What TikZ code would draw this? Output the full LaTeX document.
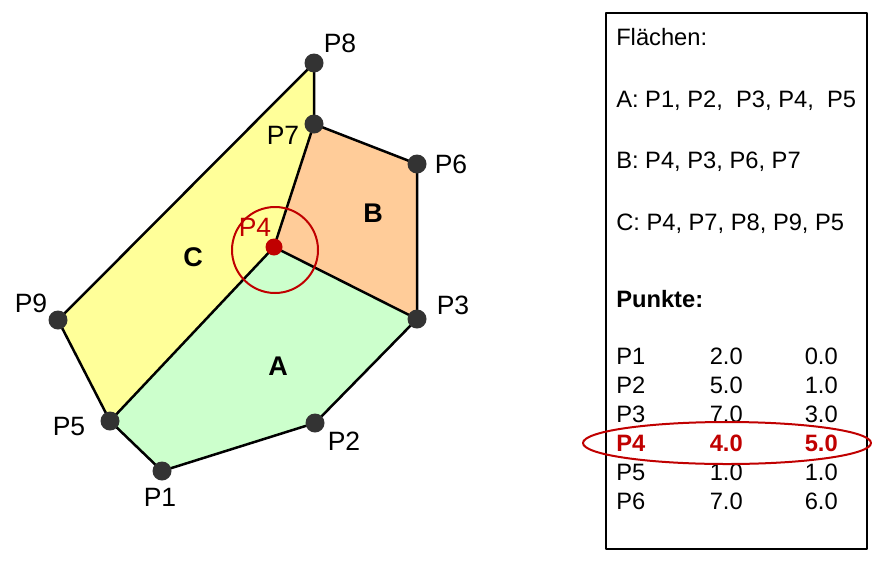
\documentclass[tikz,border=0pt]{standalone}
\usepackage{fontspec}
\setmainfont{Liberation Sans}
\definecolor{flA}{HTML}{CCFFCC}
\definecolor{flB}{HTML}{FFCC99}
\definecolor{flC}{HTML}{FFFF99}
\definecolor{dunkel}{HTML}{333333}
\definecolor{rot}{HTML}{C00000}
\begin{document}
\begin{tikzpicture}[x=1pt, y=-1pt, line width=2.5pt, line join=round,
	punkt/.style={circle, fill=dunkel, inner sep=0pt, minimum size=19pt},
	plabel/.style={font=\fontsize{26.5}{30}\selectfont, inner sep=0pt},
	flabel/.style={font=\fontsize{27}{30}\selectfont\bfseries, inner sep=0pt},
	btext/.style={font=\fontsize{23.7}{26}\selectfont, inner sep=0pt, anchor=base west},
	bzahl/.style={font=\fontsize{23.7}{26}\selectfont, inner sep=0pt, anchor=base east},
	bfett/.style={font=\fontsize{23.7}{26}\selectfont\bfseries, text=rot}]
	\useasboundingbox (0,0) rectangle (877,560);
	% Punkte
	\coordinate (P1) at (162, 471);
	\coordinate (P2) at (315, 423);
	\coordinate (P3) at (417, 319);
	\coordinate (P4) at (274, 247);
	\coordinate (P5) at (110, 421);
	\coordinate (P6) at (417, 164);
	\coordinate (P7) at (314, 124);
	\coordinate (P8) at (314,  63);
	\coordinate (P9) at ( 58, 320);
	% Flaechen
	\fill[flA] (P1) -- (P2) -- (P3) -- (P4) -- (P5) -- cycle;
	\fill[flB] (P4) -- (P3) -- (P6) -- (P7) -- cycle;
	\fill[flC] (P4) -- (P7) -- (P8) -- (P9) -- (P5) -- cycle;
	\draw (P1) -- (P2) -- (P3) -- (P6) -- (P7) -- (P8) -- (P9) -- (P5) -- cycle;
	\draw (P3) -- (P4) -- (P5);
	\draw (P4) -- (P7);
	\draw[rot, line width=2pt] (275, 250) circle [radius=43];
	\foreach \p in {P1,P2,P3,P5,P6,P7,P8,P9}
		\node (d\p) at (\p) [punkt] {};
	\node (dP4) at (P4) [punkt, fill=rot, minimum size=17pt] {};
	% Beschriftung
	\node (L1) at (160, 497) [plabel] {P1};
	\node (L2) at (344, 441) [plabel] {P2};
	\node (L3) at (453, 305) [plabel] {P3};
	\node (L4) at (255, 227) [plabel, text=rot] {P4};
	\node (L5) at ( 69, 427) [plabel] {P5};
	\node (L6) at (451, 164) [plabel] {P6};
	\node (L7) at (283, 135) [plabel] {P7};
	\node (L8) at (340,  43) [plabel] {P8};
	\node (L9) at ( 31, 303) [plabel] {P9};
	\node (FA) at (278, 366) [flabel] {A};
	\node (FB) at (373, 213) [flabel] {B};
	\node (FC) at (193, 257) [flabel] {C};
	% Tabelle
	\draw (606, 13) rectangle (867, 549);
	\node (T0) at (615,  45) [btext] {Flächen:};
	\node (TA) at (615, 107) [btext] {A: P1, P2,\ \ P3, P4,\ \ P5};
	\node (TB) at (615, 168) [btext] {B: P4, P3, P6, P7};
	\node (TC) at (615, 230) [btext] {C: P4, P7, P8, P9, P5};
	\node (TP) at (615, 307) [btext, font=\fontsize{23.7}{26}\selectfont\bfseries] {Punkte:};
	\foreach \n/\x/\y/\yy in {1/2.0/0.0/364, 2/5.0/1.0/393, 3/7.0/3.0/422, 5/1.0/1.0/480, 6/7.0/6.0/509} {
		\node (R\n) at (615, \yy) [btext] {P\n};
		\node (X\n) at (744, \yy) [bzahl] {\x};
		\node (Y\n) at (839, \yy) [bzahl] {\y};
	}
	\node (R4) at (615, 451) [btext, bfett] {P4};
	\node (X4) at (744, 451) [bzahl, bfett] {4.0};
	\node (Y4) at (839, 451) [bzahl, bfett] {5.0};
	\draw[rot, line width=2pt] (727, 443) ellipse [x radius=144, y radius=21];
\end{tikzpicture}
\end{document}
